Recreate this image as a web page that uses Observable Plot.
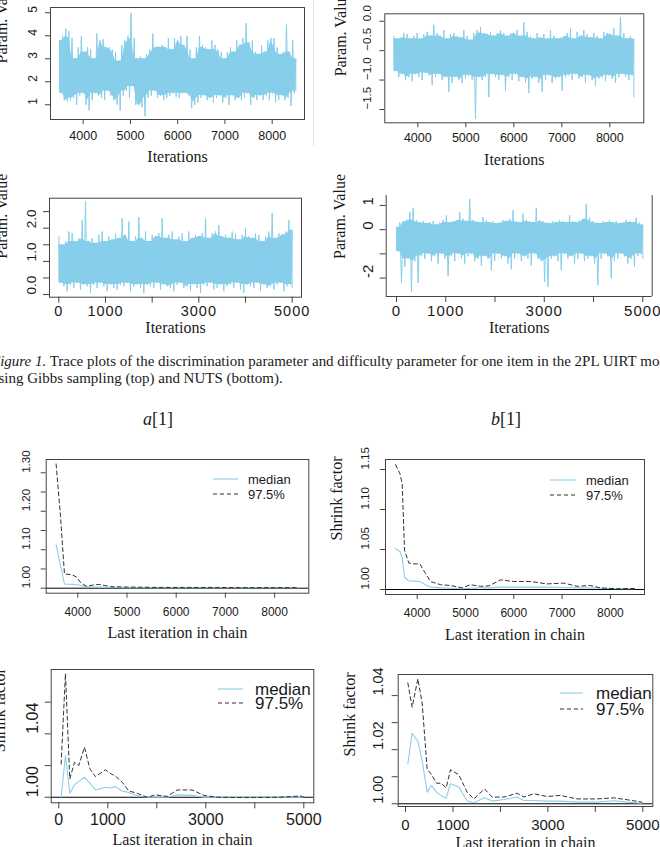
<!DOCTYPE html>
<html>
<head>
<meta charset="utf-8">
<script src="https://cdn.jsdelivr.net/npm/d3@7"></script>
<script src="https://cdn.jsdelivr.net/npm/@observablehq/plot@0.6"></script>
<style>
  body { margin: 0; background: #fff; }
  #fig { position: relative; width: 660px; height: 847px; overflow: hidden; background: #fff; }
  .panel { position: absolute; }
  .panel svg { display: block; }
</style>
</head>
<body>
<div id="fig"></div>
<script>
// ---------- Trace plots: per-bin high / low envelope of the sampled chain ----------
const gibbsIterRange = [3500, 8500];
const nutsIterRange = [0, 5000];

// a[1], Gibbs sampling
const gibbsAHigh = [3.8,4.0,4.3,4.2,3.9,3.0,3.5,4.0,3.3,3.5,3.4,3.0,4.1,3.8,3.85,3.5,3.5,3.4,3.3,2.9,3.6,3.8,4.0,5.0,3.9,3.0,3.1,3.0,3.2,3.4,4.1,3.5,3.5,3.6,3.5,3.9,3.4,3.9,3.8,4.0,3.6,4.0,3.4,3.0,3.5,4.0,3.6,3.5,3.4,3.8,3.6,3.4,3.3,3.0,3.3,3.5,3.3,3.8,3.6,3.9,4.55,3.7,3.8,3.3,3.2,3.6,3.3,3.8,3.9,3.9,3.5,3.2,3.3,4.5,3.3,3.8,3.0];
const gibbsALow  = [1.5,1.2,1.15,1.2,1.3,1.0,1.4,1.5,1.0,0.75,1.2,1.5,1.4,1.3,1.2,1.6,1.4,1.2,1.0,0.75,1.4,1.6,1.3,1.8,1.0,1.0,0.9,0.5,1.3,1.4,1.6,1.3,1.4,1.2,1.3,1.4,1.5,1.35,1.3,1.5,1.5,1.4,0.85,1.0,1.1,1.3,1.4,1.2,1.3,1.1,1.3,1.4,1.1,1.3,1.0,1.4,1.2,1.3,1.2,1.3,1.5,1.0,1.3,1.2,1.4,1.2,1.4,1.2,1.5,1.1,1.2,1.4,1.2,1.3,0.95,1.5,1.6];

// b[1], Gibbs sampling
const gibbsBHigh = [-0.25,-0.3,-0.28,-0.2,-0.22,-0.3,-0.25,-0.2,-0.3,-0.22,-0.18,-0.25,-0.06,-0.2,-0.25,-0.15,-0.3,-0.22,-0.2,-0.25,-0.28,-0.15,-0.25,-0.32,-0.2,-0.15,-0.1,-0.2,-0.22,-0.18,-0.25,-0.2,-0.15,-0.2,-0.25,-0.2,-0.2,-0.15,-0.25,-0.02,-0.18,-0.25,-0.3,-0.2,-0.28,-0.22,-0.3,-0.15,-0.25,-0.3,-0.28,-0.25,-0.2,-0.12,-0.3,-0.18,-0.25,-0.15,-0.22,-0.28,-0.2,-0.25,-0.3,-0.18,-0.2,-0.22,-0.12,-0.25,0.07,-0.2,-0.3,-0.25,-0.3];
const gibbsBLow  = [-0.85,-0.95,-0.9,-1.0,-0.95,-1.02,-0.9,-0.95,-1.0,-0.88,-0.92,-1.08,-0.95,-0.9,-1.0,-0.95,-1.2,-1.05,-0.95,-1.0,-1.05,-0.98,-0.92,-1.0,-1.66,-0.95,-1.0,-0.95,-1.29,-0.9,-0.95,-1.0,-0.92,-1.18,-0.95,-1.0,-0.9,-1.02,-0.95,-1.05,-1.22,-0.98,-0.95,-1.05,-1.2,-1.0,-0.92,-1.05,-0.98,-0.95,-1.18,-0.95,-0.92,-1.0,-0.9,-0.98,-0.95,-1.05,-0.92,-1.0,-1.1,-0.98,-0.95,-1.02,-0.92,-0.98,-1.05,-0.95,-0.9,-0.95,-1.0,-0.92,-1.29];

// a[1], NUTS
const nutsAHigh = [1.75,1.5,1.6,1.9,1.85,1.6,1.7,2.24,2.82,1.6,1.7,1.55,1.8,1.9,1.6,1.75,1.65,1.85,1.7,2.3,1.8,2.2,1.6,1.75,2.34,1.7,1.9,1.6,1.8,1.75,1.85,2.3,1.7,1.8,1.9,1.65,1.75,1.85,1.6,1.9,1.7,1.8,1.75,1.85,2.3,1.7,1.85,1.9,2.1,1.75,1.8,1.7,1.9,1.85,1.65,1.8,2.0,1.75,1.7,1.85,1.8,1.6,1.75,1.9,2.46,1.7,1.85,1.8,1.9,2.24,1.95];
const nutsALow  = [0.35,0.25,0.1,0.3,0.2,0.35,0.15,0.3,0.25,0.05,0.3,0.2,0.35,0.25,0.1,0.3,0.2,0.15,0.3,0.25,0.35,0.1,0.25,0.3,0.2,0.05,0.3,0.25,0.2,0.35,0.15,0.3,0.25,0.2,0.1,0.3,0.35,0.2,0.25,0.1,0.3,0.2,0.05,0.3,0.25,0.35,0.15,0.2,0.3,0.1,0.25,0.3,0.2,0.35,0.15,0.05,0.3,0.25,0.2,0.35,0.1,0.3,0.2,0.25,0.15,0.3,0.35,0.1,0.25,0.3,0.2];

// b[1], NUTS
const nutsBHigh = [0.1,0.3,0.35,0.4,0.73,0.9,0.4,0.3,0.35,0.25,0.3,0.35,0.2,0.3,0.4,0.59,0.3,0.35,0.4,0.73,0.45,0.35,1.27,0.4,0.35,0.3,0.52,0.4,0.3,0.35,0.25,0.3,0.4,0.35,0.45,0.8,0.35,0.3,0.66,0.4,0.35,0.3,0.9,0.4,0.35,0.3,0.25,0.35,0.3,0.4,0.35,0.3,0.6,0.35,0.3,0.4,0.45,1.07,0.5,0.35,0.3,0.25,0.35,0.3,0.4,0.3,0.35,0.25,0.3,0.4,0.35,0.3,0.5,0.3,0.2];
const nutsBLow  = [-0.9,-2.2,-1.53,-1.2,-2.56,-1.3,-2.2,-1.1,-1.2,-1.0,-1.3,-1.1,-1.4,-1.0,-1.2,-1.92,-1.1,-1.3,-1.0,-1.2,-1.4,-1.1,-1.0,-1.3,-1.2,-1.5,-1.1,-1.2,-1.67,-1.3,-1.0,-1.2,-1.1,-1.4,-1.64,-1.2,-1.0,-1.3,-1.1,-1.2,-1.5,-1.0,-1.2,-1.3,-2.15,-2.36,-1.2,-1.1,-1.3,-1.67,-1.0,-1.2,-1.1,-1.4,-1.2,-1.0,-1.3,-1.2,-1.1,-1.4,-2.29,-1.2,-1.0,-1.1,-2.0,-1.3,-1.2,-1.0,-1.1,-1.4,-1.2,-1.53,-1.1,-1.0,-1.2];

// ---------- Gelman–Rubin shrink factor plots ----------
const gelGibbsAIter   = [3559,3647,3729,3885,3985,4054,4176,4300,4427,4664,5003,5600,6200,6800,7400,8000,8500];
const gelGibbsAMedian = [1.113,1.06,1.011,1.010,1.009,1.007,1.004,1.003,1.003,1.002,1.001,1.001,1.001,1.001,1.001,1.001,1.001];
const gelGibbsAUpper  = [1.323,1.19,1.037,1.035,1.028,1.015,1.005,1.008,1.010,1.004,1.003,1.002,1.002,1.002,1.0015,1.0015,1.0015];

const gelGibbsBIter   = [3552,3641,3690,3738,3828,3931,4055,4172,4276,4483,4690,4931,5103,5310,5483,5724,6000,6345,6690,7034,7310,7586,7793,8138,8500];
const gelGibbsBMedian = [1.051,1.0475,1.04,1.015,1.011,1.0105,1.010,1.006,1.003,1.002,1.0015,1.001,1.0015,1.002,1.002,1.003,1.003,1.003,1.003,1.0025,1.002,1.002,1.0015,1.001,1.001];
const gelGibbsBUpper  = [1.156,1.145,1.132,1.049,1.033,1.032,1.032,1.020,1.010,1.006,1.005,1.002,1.006,1.004,1.0045,1.012,1.010,1.010,1.007,1.008,1.004,1.005,1.002,1.001,1.0012];

const gelNutsAIter   = [48,136,224,320,408,524,633,748,952,1054,1156,1293,1429,1599,1803,1973,2211,2415,2721,2959,3231,3600,4000,4500,4932,5000];
const gelNutsAMedian = [1.000,1.0263,1.0025,1.0078,1.010,1.0126,1.009,1.0046,1.0063,1.0058,1.0067,1.004,1.003,1.001,1.000,1.000,1.000,1.0015,1.0012,1.000,1.000,1.000,1.000,1.000,1.000,1.000];
const gelNutsAUpper  = [1.021,1.078,1.0116,1.022,1.020,1.0316,1.018,1.013,1.0173,1.015,1.0133,1.0095,1.004,1.0025,1.000,1.0015,1.0005,1.0046,1.0046,1.0012,1.000,0.9998,0.9998,1.000,1.0008,1.000];

const gelNutsBIter   = [49,140,260,351,456,548,653,751,857,948,1124,1299,1440,1664,1826,2072,2353,2493,2704,2985,3265,3617,4038,4389,4670,4986];
const gelNutsBMedian = [1.0148,1.0261,1.0231,1.016,1.0043,1.0068,1.0043,1.003,1.0021,1.0074,1.0062,1.001,1.0004,1.0022,1.001,1.0016,1.0025,1.0012,1.0012,1.001,1.001,1.0006,1.0006,1.0011,1.0006,1.0002];
const gelNutsBUpper  = [1.0447,1.0357,1.0462,1.0372,1.0129,1.0108,1.0076,1.0076,1.0059,1.0126,1.0107,1.0043,1.0018,1.0055,1.0025,1.0025,1.0039,1.0025,1.0037,1.0027,1.0031,1.0018,1.0018,1.0022,1.0015,1.0006];

// ---------- Axis ticks and labels ----------
const gibbsXTicks = [4000, 5000, 6000, 7000, 8000];
const nutsXTicks = [0, 1000, 2000, 3000, 4000, 5000];
const nutsXLabels = [0, 1000, 3000, 5000];
const gibbsAYTicks = [1, 2, 3, 4, 5];
const gibbsBYTicks = [0, -0.5, -1, -1.5];
const nutsAYTicks = [0, 0.5, 1, 1.5, 2, 2.5];
const nutsAYLabels = [0, 1, 2];
const nutsBYTicks = [1, 0, -1, -2];
const nutsBYLabels = [1, 0, -2];
const gelGibbsAYTicks = [1.00, 1.05, 1.10, 1.15, 1.20, 1.25, 1.30];
const gelGibbsAYLabels = [1.00, 1.10, 1.20, 1.30];
const gelGibbsBYTicks = [1.00, 1.05, 1.10, 1.15];
const gelNutsAYTicks = [1.00, 1.02, 1.04, 1.06];
const gelNutsAYLabels = [1.00, 1.04];
const gelNutsBYTicks = [1.00, 1.01, 1.02, 1.03, 1.04];
const gelNutsBYLabels = [1.00, 1.02, 1.04];

const legendLabels = ["median", "97.5%"];
const captionLabel = "Figure 1.";
const captionLine1 = "Trace plots of the discrimination parameter and difficulty parameter for one item in the 2PL UIRT model";
const captionLine2 = "using Gibbs sampling (top) and NUTS (bottom).";
const captionFitText = "Figure 1. Trace plots of the discrimination parameter and difficulty parameter for one item in the 2PL UIRT mo";

// ---------- Styling ----------
const SANS = "'Liberation Sans', Arial, Helvetica, sans-serif";
const NARROW = "'Liberation Sans Narrow', 'Liberation Sans', Arial, sans-serif";
const SERIF = "'Liberation Serif', 'Times New Roman', Times, serif";
const TRACE = "#87CEEB";
const MEDIAN = "#8ccfe8";
const UPPER = "#333333";
const FRAME = "#444444";
const INK = "#1a1a1a";

const fig = d3.select("#fig");

function binIters([start, end], n) {
  const step = (end - start) / (n - 1);
  return {step, at: i => start + i * step};
}

// Alternate between the bin high and the bin low so the line sweeps the whole envelope
function traceRows(range, hi, lo) {
  const n = hi.length, {step, at} = binIters(range, n), rows = [];
  hi.forEach((h, i) => {
    rows.push({iter: at(i), value: h});
    rows.push({iter: i < n - 1 ? at(i) + step / 2 : at(i), value: lo[i]});
  });
  return rows;
}

// Dense core of the chain: the band every neighbouring bin passes through
function coreRows(range, hi, lo) {
  const n = hi.length, {at} = binIters(range, n);
  return hi.map((h, i) => ({
    iter: at(i),
    top: d3.min(hi.slice(Math.max(0, i - 1), i + 2)),
    bottom: d3.max(lo.slice(Math.max(0, i - 1), i + 2))
  }));
}

function gelmanRows(iter, median, upper) {
  return iter.map((it, i) => ({iter: it, median: median[i], upper: upper[i]}));
}

function drawPanel(p) {
  const [mt, mr, mb, ml] = p.margin;
  const marks = [...p.marks];
  if (p.openTop) {
    marks.push(Plot.ruleX(p.xDomain, {stroke: FRAME}));
    marks.push(Plot.ruleY([p.yDomain[0]], {stroke: FRAME}));
  } else {
    marks.push(Plot.frame({stroke: FRAME}));
  }
  marks.push(Plot.axisX({
    ticks: p.xTicks, tickSize: p.tickSize, tickPadding: p.xPad,
    tickFormat: d => (p.xLabels.includes(d) ? String(d) : ""),
    fontSize: p.xFont, fontFamily: p.xFamily, stroke: FRAME, fill: INK, label: null
  }));
  marks.push(Plot.axisY({
    ticks: p.yTicks, tickSize: p.tickSize, tickFormat: () => "", stroke: FRAME, label: null
  }));
  marks.push(Plot.text(p.yLabels, {
    y: d => d, text: p.yFormat, frameAnchor: "left", dx: -p.yLabelOffset, rotate: -90,
    fontSize: p.yFont, fontFamily: p.yFamily, fill: INK
  }));
  marks.push(Plot.text([p.xTitle], {
    text: d => d, frameAnchor: "bottom", dy: p.xTitleDy, fontSize: 16, fontFamily: SERIF, fill: INK
  }));
  if (p.yTitle) {
    marks.push(Plot.text([p.yTitle], {
      text: d => d, frameAnchor: "left", dx: p.yTitleDx, dy: p.yTitleDy, rotate: -90,
      fontSize: 16, fontFamily: SERIF, fill: INK
    }));
  }
  const svg = Plot.plot({
    width: p.w, height: p.h,
    marginTop: mt, marginRight: mr, marginBottom: mb, marginLeft: ml,
    style: {background: "transparent", fontFamily: SANS, color: INK, overflow: "visible"},
    x: {domain: p.xDomain},
    y: {domain: p.yDomain},
    marks
  });
  if (p.xSpacing) {
    d3.select(svg).selectAll("g[aria-label='x-axis tick label'] text").style("letter-spacing", p.xSpacing + "px");
  }
  fig.append("div").attr("class", "panel")
    .style("left", p.left + "px").style("top", p.top + "px")
    .style("width", p.w + "px").style("height", p.h + "px")
    .node().append(svg);
}

function traceMarks(range, hi, lo) {
  return [
    Plot.areaY(coreRows(range, hi, lo), {x: "iter", y1: "bottom", y2: "top", fill: TRACE}),
    Plot.line(traceRows(range, hi, lo), {x: "iter", y: "value", stroke: TRACE, strokeWidth: 1})
  ];
}

function gelmanMarks(rows) {
  return [
    Plot.ruleY([1], {stroke: "#000", strokeWidth: 1}),
    Plot.line(rows, {x: "iter", y: "median", stroke: MEDIAN, strokeWidth: 1.1}),
    Plot.line(rows, {x: "iter", y: "upper", stroke: UPPER, strokeWidth: 1, strokeDasharray: "4,3"})
  ];
}

const fmt1 = d3.format(".1f"), fmt2 = d3.format(".2f"), fmt0 = d => String(d);

// Top row: Gibbs sampling traces
drawPanel({
  left: 0, top: 0, w: 330, h: 170, margin: [7, 26, 51, 50],
  xDomain: [3308, 8684], yDomain: [0.36, 5.23],
  marks: traceMarks(gibbsIterRange, gibbsAHigh, gibbsALow),
  xTicks: gibbsXTicks, xLabels: gibbsXTicks, xPad: 7, xFont: 12.5, xFamily: SANS, tickSize: 5,
  yTicks: gibbsAYTicks, yLabels: gibbsAYTicks, yFormat: fmt0, yLabelOffset: 17, yFont: 12, yFamily: NARROW,
  xTitle: "Iterations", xTitleDy: 42, yTitle: "Param. Value", yTitleDx: -48.5, yTitleDy: 0
});
drawPanel({
  left: 330, top: 0, w: 330, h: 170, margin: [13.3, 16.7, 47.7, 54.3],
  xDomain: [3312, 8708], yDomain: [-1.726, 0.126],
  marks: traceMarks(gibbsIterRange, gibbsBHigh, gibbsBLow),
  xTicks: gibbsXTicks, xLabels: gibbsXTicks, xPad: 5.5, xFont: 12.5, xFamily: SANS, tickSize: 5,
  yTicks: gibbsBYTicks, yLabels: gibbsBYTicks, yFormat: fmt1, yLabelOffset: 17.6, yFont: 11.5, yFamily: NARROW,
  xTitle: "Iterations", xTitleDy: 42, yTitle: "Param. Value", yTitleDx: -44.3, yTitleDy: 8
});

// Second row: NUTS traces
drawPanel({
  left: 0, top: 170, w: 330, h: 170, margin: [27.7, 29, 43.3, 49],
  xDomain: [-200, 5200], yDomain: [-0.08, 2.905],
  marks: traceMarks(nutsIterRange, nutsAHigh, nutsALow),
  xTicks: nutsXTicks, xLabels: nutsXLabels, xPad: 2.5, xFont: 14.5, xFamily: SANS, xSpacing: 1, tickSize: 6,
  yTicks: nutsAYTicks, yLabels: nutsAYLabels, yFormat: fmt1, yLabelOffset: 18.2, yFont: 13.5, yFamily: SANS,
  xTitle: "Iterations", xTitleDy: 36, yTitle: "Param. Value", yTitleDx: -47.5, yTitleDy: 11
});
drawPanel({
  left: 330, top: 170, w: 330, h: 170, margin: [25, 8.3, 44, 55.7], openTop: true,
  xDomain: [-209, 5191], yDomain: [-2.76, 1.41],
  marks: traceMarks(nutsIterRange, nutsBHigh, nutsBLow),
  xTicks: nutsXTicks, xLabels: nutsXLabels, xPad: 2.5, xFont: 15, xFamily: SANS, xSpacing: 1, tickSize: 6,
  yTicks: nutsBYTicks, yLabels: nutsBYLabels, yFormat: fmt0, yLabelOffset: 18.2, yFont: 15, yFamily: SANS,
  xTitle: "Iterations", xTitleDy: 36.5, yTitle: "Param. Value", yTitleDx: -46.7, yTitleDy: 13
});

// Third row: Gibbs shrink factors
drawPanel({
  left: 0, top: 440, w: 330, h: 210, margin: [19, 21.7, 57.3, 45.7],
  xDomain: [3358, 8695], yDomain: [0.987, 1.3346],
  marks: gelmanMarks(gelmanRows(gelGibbsAIter, gelGibbsAMedian, gelGibbsAUpper)),
  xTicks: gibbsXTicks, xLabels: gibbsXTicks, xPad: 9.5, xFont: 12, xFamily: NARROW, tickSize: 5,
  yTicks: gelGibbsAYTicks, yLabels: gelGibbsAYLabels, yFormat: fmt2, yLabelOffset: 20, yFont: 11.5, yFamily: NARROW,
  xTitle: "Last iteration in chain", xTitleDy: 45
});
drawPanel({
  left: 330, top: 440, w: 330, h: 210, margin: [19, 16, 56, 55],
  xDomain: [3344, 8706], yDomain: [0.99375, 1.1625],
  marks: gelmanMarks(gelmanRows(gelGibbsBIter, gelGibbsBMedian, gelGibbsBUpper)),
  xTicks: gibbsXTicks, xLabels: gibbsXTicks, xPad: 9, xFont: 12, xFamily: NARROW, tickSize: 5,
  yTicks: gelGibbsBYTicks, yLabels: gelGibbsBYTicks, yFormat: fmt2, yLabelOffset: 20.5, yFont: 11.5, yFamily: NARROW,
  xTitle: "Last iteration in chain", xTitleDy: 45, yTitle: "Shrink factor", yTitleDx: -48.3, yTitleDy: 13.5
});

// Bottom row: NUTS shrink factors
drawPanel({
  left: 0, top: 650, w: 330, h: 197, margin: [19, 16.7, 44.7, 50.7],
  xDomain: [-155, 5204], yDomain: [0.9965, 1.0806],
  marks: gelmanMarks(gelmanRows(gelNutsAIter, gelNutsAMedian, gelNutsAUpper)),
  xTicks: nutsXTicks, xLabels: nutsXLabels, xPad: 5, xFont: 16, xFamily: SANS, tickSize: 6,
  yTicks: gelNutsAYTicks, yLabels: gelNutsAYLabels, yFormat: fmt2, yLabelOffset: 18.2, yFont: 16, yFamily: SANS,
  xTitle: "Last iteration in chain", xTitleDy: 42, yTitle: "Shrink factor", yTitleDx: -51.7, yTitleDy: 16
});
drawPanel({
  left: 330, top: 650, w: 330, h: 197, margin: [24, 7.7, 41, 67.7],
  xDomain: [-154, 5211], yDomain: [0.999, 1.0478],
  marks: gelmanMarks(gelmanRows(gelNutsBIter, gelNutsBMedian, gelNutsBUpper)),
  xTicks: nutsXTicks, xLabels: nutsXLabels, xPad: 7, xFont: 15, xFamily: SANS, tickSize: 6,
  yTicks: gelNutsBYTicks, yLabels: gelNutsBYLabels, yFormat: fmt2, yLabelOffset: 19.4, yFont: 14.5, yFamily: SANS,
  xTitle: "Last iteration in chain", xTitleDy: 41.5, yTitle: "Shrink factor", yTitleDx: -48, yTitleDy: 16
});

// ---------- Caption, parameter headings, legends ----------
const overlay = fig.append("svg")
  .attr("width", 660).attr("height", 847)
  .style("position", "absolute").style("left", "0px").style("top", "0px")
  .style("pointer-events", "none");

// faint edge of the upper-left trace figure
overlay.append("line").attr("x1", 313.5).attr("x2", 313.5).attr("y1", 0).attr("y2", 146)
  .attr("stroke", "#e2e2e2").attr("stroke-width", 1);

const capSize = 14.5;
const capLeft = -9;
const cap = overlay.append("g").attr("font-family", SERIF).attr("font-size", capSize).attr("fill", INK);
const probe = cap.append("text");
probe.append("tspan").attr("font-style", "italic").text(captionLabel);
probe.append("tspan").text(captionFitText.slice(captionLabel.length));
const fitW = probe.node().getComputedTextLength();
probe.remove();
const sx = (660 - capLeft) / fitW;
cap.attr("transform", `translate(${capLeft},0) scale(${sx},1)`);
const l1 = cap.append("text").attr("x", 0).attr("y", 365.7);
l1.append("tspan").attr("font-style", "italic").text(captionLabel);
l1.append("tspan").text(" " + captionLine1);
cap.append("text").attr("x", 0).attr("y", 383).text(captionLine2);

[["a", 158], ["b", 506]].forEach(([sym, cx]) => {
  const t = overlay.append("text").attr("x", cx).attr("y", 425).attr("text-anchor", "middle")
    .attr("font-family", SERIF).attr("font-size", 18).attr("fill", INK);
  t.append("tspan").attr("font-style", "italic").text(sym);
  t.append("tspan").text("[1]");
});

const legends = [
  {x1: 213, x2: 238, y: [479, 494], tx: 248, font: 13, family: NARROW},
  {x1: 550, x2: 576, y: [480, 495], tx: 586, font: 13, family: NARROW},
  {x1: 218, x2: 243, y: [689, 703], tx: 255, font: 17, family: SANS},
  {x1: 560, x2: 583, y: [693, 709], tx: 596, font: 17, family: SANS}
];
const legendStyles = [{stroke: MEDIAN, dash: null}, {stroke: UPPER, dash: "4,3"}];
legends.forEach(L => {
  legendLabels.forEach((label, i) => {
    overlay.append("line").attr("x1", L.x1).attr("x2", L.x2).attr("y1", L.y[i]).attr("y2", L.y[i])
      .attr("stroke", legendStyles[i].stroke).attr("stroke-width", 1.1)
      .attr("stroke-dasharray", legendStyles[i].dash);
    overlay.append("text").attr("x", L.tx).attr("y", L.y[i]).attr("dy", "0.35em")
      .attr("font-family", L.family).attr("font-size", L.font).attr("fill", INK).text(label);
  });
});
</script>
</body>
</html>
